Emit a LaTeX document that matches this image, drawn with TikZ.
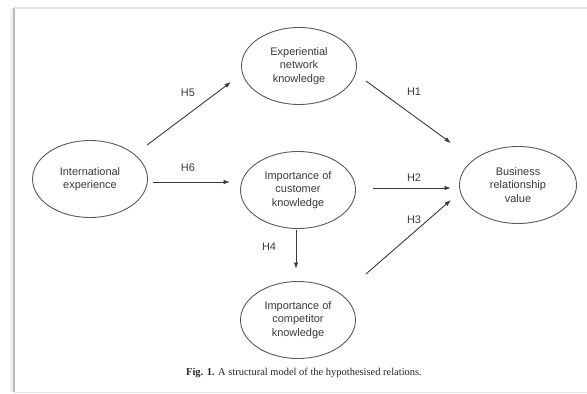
\documentclass[tikz,border=0pt]{standalone}
\usepackage{fontspec}
\setmainfont{Liberation Sans}
\newfontfamily\capfont{Liberation Serif}
\usetikzlibrary{arrows.meta,shapes.geometric}
\definecolor{inkgray}{HTML}{3A3A3A}
\definecolor{rimgray}{HTML}{5A5A5A}
\tikzset{
  construct/.style={ellipse, draw=rimgray, line width=0.9bp, inner sep=0pt,
    minimum width=115bp, minimum height=77bp, align=center, text=inkgray,
    font=\fontsize{11}{13.5}\selectfont},
  path/.style={draw=inkgray, line width=0.9bp, -{Latex[length=6.5bp,width=4.5bp]}},
  hyp/.style={text=inkgray, font=\fontsize{11}{13}\selectfont, inner sep=0pt},
}
\begin{document}
\begin{tikzpicture}[x=1bp,y=1bp]
\useasboundingbox (0,0) rectangle (587,393);
\fill[white] (0,0) rectangle (587,393);
% page frame with soft shadow on the left
\draw[gray!12, line width=4bp] (12,1) -- (12,385);
\draw[gray!55, line width=1.6bp] (14,1) -- (14,385);
\draw[gray!25, line width=1.2bp] (14,385) -- (587,385);
\draw[gray!20, line width=1bp] (14,1) -- (587,1);

% constructs
\node[construct] (ie)  at (90,214)  {International\\experience};
\node[construct] (enk) at (299,327) {Experiential\\network\\knowledge};
\node[construct] (cuk) at (298,203) {Importance of\\customer\\knowledge};
\node[construct] (cok) at (298,73)  {Importance of\\competitor\\knowledge};
\node[construct, minimum width=117bp] (brv) at (518,208) {Business\\relationship\\value};

% hypothesised paths
\draw[path] ([shift={(57,34)}]ie.center)   -- ([shift={(-68,-16)}]enk.center);
\draw[path] ([shift={(67,-15)}]enk.center) -- ([shift={(-67,42)}]brv.center);
\draw[path] ([shift={(63,-3)}]ie.center)   -- ([shift={(-68,8)}]cuk.center);
\draw[path] ([shift={(75,2)}]cuk.center)   -- ([shift={(-67,-3)}]brv.center);
\draw[path] ([shift={(68,46)}]cok.center)  -- ([shift={(-67,-15)}]brv.center);
\draw[path] ([shift={(-2,-40)}]cuk.center) -- ([shift={(-2,51)}]cok.center);

% hypothesis labels
\node[hyp] (h5) at (188,300) {H5};
\node[hyp] (h6) at (188,225) {H6};
\node[hyp] (h1) at (414,301) {H1};
\node[hyp] (h2) at (414,215) {H2};
\node[hyp] (h3) at (414,173) {H3};
\node[hyp] (h4) at (269,146) {H4};

% caption
\node[text=black!85, font=\capfont\fontsize{10.5}{12}\selectfont] (cap) at (304,20)
  {\textbf{Fig. 1.} A structural model of the hypothesised relations.};
\end{tikzpicture}
\end{document}
